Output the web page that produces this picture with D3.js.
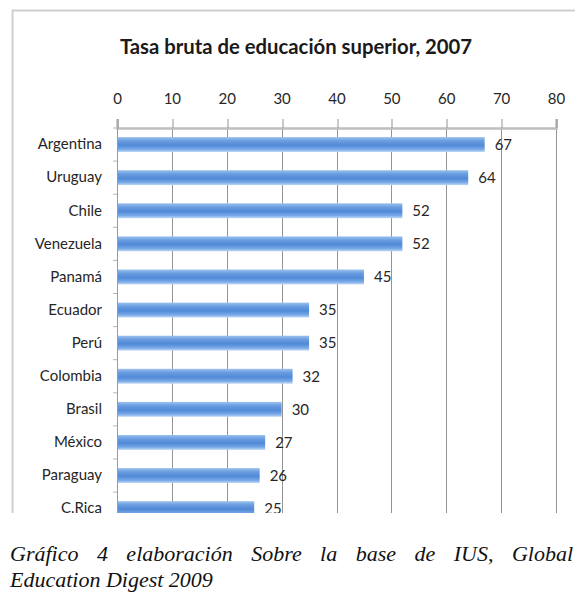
<!DOCTYPE html>
<html>
<head>
<meta charset="utf-8">
<script src="https://cdn.jsdelivr.net/npm/d3@7/dist/d3.min.js"></script>
<style>
  html, body { margin: 0; padding: 0; background: #fff; }
  #wrap { position: relative; width: 575px; height: 603px; overflow: hidden; }
  svg { position: absolute; left: 0; top: 0; }
  #caption {
    position: absolute; left: 10px; top: 541px; width: 563px;
    font-family: "Liberation Serif", "Times New Roman", serif;
    font-style: italic; font-size: 22px; line-height: 26px; color: #111;
  }
  #caption .l1 { text-align: justify; text-align-last: justify; }
</style>
</head>
<body>
<div id="wrap">
  <svg id="chart" width="575" height="603"></svg>
  <div id="caption">
    <div class="l1">Gráfico 4 elaboración Sobre la base de IUS, Global</div>
    <div>Education Digest 2009</div>
  </div>
</div>
<script>
// Gross tertiary enrolment ratio by country, 2007
const countries = ["Argentina", "Uruguay", "Chile", "Venezuela", "Panamá", "Ecuador",
                   "Perú", "Colombia", "Brasil", "México", "Paraguay", "C.Rica"];
const rates = [67, 64, 52, 52, 45, 35, 35, 32, 30, 27, 26, 25];
const tickValues = [0, 10, 20, 30, 40, 50, 60, 70, 80];
const chartTitle = "Tasa bruta de educación superior, 2007";

const svg = d3.select("#chart");
const font = "Lato, 'Open Sans', sans-serif";

// Layout of the plot area
const plotLeft = 117, plotRight = 556, plotTop = 128;
const band = 33.1;
const plotBottom = plotTop + band * countries.length;
const cutY = 513; // the chart image ends here

const x = d3.scaleLinear().domain([0, 80]).range([plotLeft, plotRight]);
const y = d3.scaleBand().domain(countries).range([plotTop, plotBottom])
  .paddingInner(0.55).paddingOuter(0.275);

// Bar gradient (light edges, saturated middle)
const defs = svg.append("defs");
const grad = defs.append("linearGradient").attr("id", "barGrad")
  .attr("x1", 0).attr("y1", 0).attr("x2", 0).attr("y2", 1);
[["0%", "#9cc2ee"], ["25%", "#6a9de0"], ["55%", "#5089d7"], ["82%", "#78a9e7"], ["100%", "#c0d8f5"]]
  .forEach(([o, c]) => grad.append("stop").attr("offset", o).attr("stop-color", c));

defs.append("clipPath").attr("id", "cut")
  .append("rect").attr("x", 0).attr("y", 0).attr("width", 575).attr("height", cutY);

const g = svg.append("g").attr("clip-path", "url(#cut)");

// Chart frame (top and left edges visible)
g.append("line").attr("x1", 12).attr("x2", 575).attr("y1", 10.5).attr("y2", 10.5)
  .attr("stroke", "#cfcfcf").attr("stroke-width", 2);
g.append("line").attr("x1", 12.5).attr("x2", 12.5).attr("y1", 10).attr("y2", cutY)
  .attr("stroke", "#cfcfcf").attr("stroke-width", 2);

// Title
g.append("text").attr("x", 296).attr("y", 54).attr("text-anchor", "middle")
  .attr("font-family", font).attr("font-weight", "bold").attr("font-size", 20.3)
  .attr("fill", "#1a1a1a").text(chartTitle);

// Vertical gridlines
g.append("g").selectAll("line").data(tickValues.slice(1)).join("line")
  .attr("x1", d => Math.round(x(d)) + 0.5).attr("x2", d => Math.round(x(d)) + 0.5)
  .attr("y1", plotTop).attr("y2", plotBottom)
  .attr("stroke", "#949494").attr("stroke-width", 1);

// Top value axis
const xAxis = g.append("g").attr("transform", `translate(0,${plotTop})`)
  .call(d3.axisTop(x).tickValues(tickValues).tickSize(9).tickPadding(15));
xAxis.select(".domain").attr("stroke", "#bdbdbd").attr("stroke-width", 2.5);
xAxis.selectAll(".tick line").attr("stroke", "#949494")
  .attr("transform", d => `translate(${Math.round(x(d)) + 0.5 - x(d)},0)`);
xAxis.selectAll(".tick text").attr("font-family", font).attr("font-size", 15).attr("fill", "#262626");

// Bars
g.append("g").selectAll("rect").data(countries).join("rect")
  .attr("x", x(0)).attr("y", d => y(d))
  .attr("width", (d, i) => x(rates[i]) - x(0)).attr("height", y.bandwidth())
  .attr("fill", "url(#barGrad)");

// Category axis
const yAxis = g.append("g").attr("transform", `translate(${plotLeft},0)`)
  .call(d3.axisLeft(y).tickSize(0).tickPadding(15));
yAxis.select(".domain").attr("stroke", "#9a9a9a").attr("stroke-width", 1);
yAxis.selectAll(".tick text").attr("font-family", font).attr("font-size", 15).attr("fill", "#262626");

// Small ticks between categories
g.append("g").selectAll("line").data(d3.range(countries.length + 1)).join("line")
  .attr("x1", plotLeft - 4).attr("x2", plotLeft)
  .attr("y1", i => plotTop + i * band).attr("y2", i => plotTop + i * band)
  .attr("stroke", "#b5b5b5");

// Value labels
g.append("g").selectAll("text").data(countries).join("text")
  .attr("x", (d, i) => x(rates[i]) + 10)
  .attr("y", d => y(d) + y.bandwidth() / 2)
  .attr("dy", "0.35em")
  .attr("font-family", font).attr("font-size", 15).attr("fill", "#262626")
  .text((d, i) => rates[i]);
</script>
</body>
</html>
